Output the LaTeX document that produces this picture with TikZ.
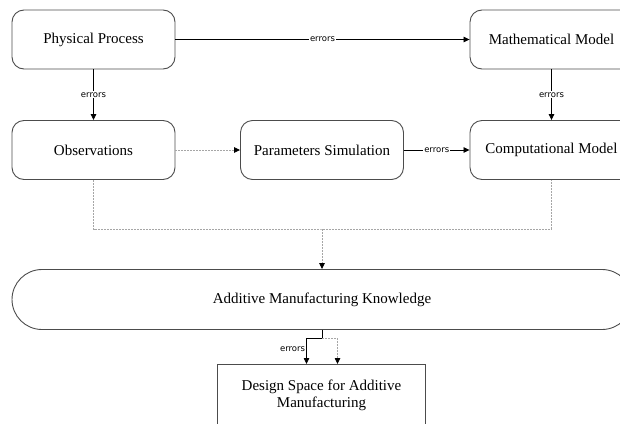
\documentclass[tikz,border=0pt]{standalone}
\usepackage{fontspec}
\setmainfont{Liberation Serif}
\newfontfamily\errfont{DejaVu Sans}
\usetikzlibrary{arrows.meta}

\tikzset{
  box/.style={draw=black!70, line width=0.9pt, rounded corners=12pt, minimum width=163pt, minimum height=59pt, font=\fontsize{15}{17}\selectfont},
  arrow/.style={-{Triangle[length=6pt,width=5.5pt,color=black]}, line width=0.8pt},
  softline/.style={draw=black!35, line width=0.7pt, dash pattern=on 2pt off 1pt},
  errlabel/.style={font=\errfont\fontsize{8.5}{10}\selectfont, fill=white, inner sep=1pt},
}

\begin{document}
\begin{tikzpicture}[x=1pt, y=-1pt]
      \clip (0,0) rectangle (620,423);
      \node [box] (physical) at (93.5,39.5) {Physical Process};
      \node [box] (math) at (551.5,39.5) {Mathematical Model};
      \node [box] (obs) at (93.5,150) {Observations};
      \node [box] (params) at (322,150) {Parameters Simulation};
      \node [box] (comp) at (551.5,150) {Computational Model};
      \node [box, rounded corners=30pt, minimum width=620pt, minimum height=60pt] (amk) at (322,299.5) {Additive Manufacturing Knowledge};
      \node [draw=black!70, line width=0.9pt, minimum width=208pt, minimum height=62pt, anchor=north, align=center, font=\fontsize{15}{17}\selectfont] (design) at (321.5,364) {Design Space for Additive\\Manufacturing};
      \coordinate (merge) at (322,229);
      \coordinate (split) at (322,338);
      \draw [arrow] (physical) -- node [errlabel] {errors} (math);
      \draw [arrow] (physical) -- node [errlabel] {errors} (obs);
      \draw [arrow] (math) -- node [errlabel] {errors} (comp);
      \draw [softline, arrow] (obs) -- (params);
      \draw [arrow] (params) -- node [errlabel] {errors} (comp);
      \draw [softline] (obs.south) |- (merge) -| (comp.south);
      \draw [softline, arrow] (merge) -- (amk.north);
      \draw [arrow] (amk.south) -- (split) -| node [errlabel, pos=0.72, left] {errors} ([xshift=-15pt]design.north);
      \draw [softline, arrow] (split) -| ([xshift=16pt]design.north);
    \end{tikzpicture}
\end{document}
